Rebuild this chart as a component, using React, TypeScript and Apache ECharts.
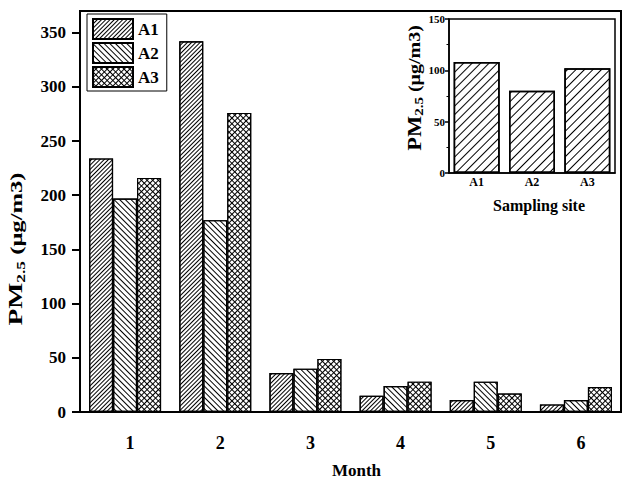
import React, { useEffect, useRef } from "react";
import * as echarts from "echarts";

const months = ["1", "2", "3", "4", "5", "6"];
const a1 = [234, 342, 36, 15, 11, 7];
const a2 = [197, 177, 40, 24, 28, 11];
const a3 = [216, 276, 49, 28, 17, 23];
const yTicks = [0, 50, 100, 150, 200, 250, 300, 350];

const sites = ["A1", "A2", "A3"];
const siteMeans = [108, 80, 102];

const FONT = "'Liberation Serif', 'Times New Roman', serif";

export default function App() {
  const ref = useRef<HTMLDivElement>(null);
  useEffect(() => {
    if (!ref.current) return;
    const chart = echarts.init(ref.current, undefined, { renderer: "svg" });
    const hatchA1 = { symbol: "rect", symbolSize: 1, color: "#000", dashArrayX: [1, 0], dashArrayY: [1, 2], rotation: -Math.PI / 4 };
    const hatchA2 = { symbol: "rect", symbolSize: 1, color: "#000", dashArrayX: [1, 0], dashArrayY: [1, 3], rotation: Math.PI / 4 };
    const hatchA3 = { symbol: "rect", symbolSize: 1, color: "#fff", dashArrayX: [3, 1], dashArrayY: [3, 1], rotation: Math.PI / 4 };
    const hatchInset = { symbol: "rect", symbolSize: 1, color: "#000", dashArrayX: [1, 0], dashArrayY: [1, 5], rotation: -Math.PI / 4 };
    const barStyle = (decal: any, fill = "#fff") => ({ color: fill, borderColor: "#000", borderWidth: 1.2, decal });
    const axisText = { color: "#000", fontFamily: FONT, fontWeight: "bold" as const };
    chart.setOption({
      animation: false,
      backgroundColor: "#fff",
      textStyle: { fontFamily: FONT, color: "#000" },
      legend: {
        data: ["A1", "A2", "A3"],
        orient: "vertical",
        left: 87,
        top: 14,
        icon: "rect",
        itemWidth: 40,
        itemHeight: 20,
        itemGap: 2,
        padding: [4, 8, 3, 5],
        borderColor: "#000",
        borderWidth: 1,
        textStyle: { ...axisText, fontSize: 17 },
      },
      grid: [
        { left: 80, right: 4, top: 11, bottom: 68, show: true, borderColor: "#000", borderWidth: 2 },
        { left: 449, right: 10, top: 19, bottom: 311, show: true, borderColor: "#000", borderWidth: 1.5, backgroundColor: "#fff" },
      ],
      xAxis: [
        {
          type: "category",
          gridIndex: 0,
          data: months,
          name: "Month",
          nameLocation: "middle",
          nameGap: 50,
          nameTextStyle: { ...axisText, fontSize: 17, padding: [0, 0, 0, 12] },
          axisLine: { lineStyle: { color: "#000", width: 2 } },
          axisTick: { alignWithLabel: true, length: 8, lineStyle: { color: "#000", width: 2 } },
          axisLabel: { ...axisText, fontSize: 18, margin: 22, padding: [0, 0, 0, 10] },
        },
        {
          type: "category",
          gridIndex: 1,
          data: sites,
          name: "Sampling site",
          nameLocation: "middle",
          nameGap: 24,
          nameTextStyle: { ...axisText, fontSize: 16, padding: [0, 0, 0, 14] },
          axisLine: { lineStyle: { color: "#000", width: 1.5 } },
          axisTick: { alignWithLabel: true, length: 3, lineStyle: { color: "#000", width: 1.5 } },
          axisLabel: { ...axisText, fontSize: 12, margin: 3 },
        },
      ],
      yAxis: [
        {
          type: "value",
          gridIndex: 0,
          min: 0,
          max: 370,
          interval: 50,
          splitLine: { show: false },
          axisLine: { show: true, lineStyle: { color: "#000", width: 2 } },
          axisTick: { show: true, length: 8, customValues: yTicks, lineStyle: { color: "#000", width: 2 } },
          axisLabel: { ...axisText, fontSize: 17, margin: 14, customValues: yTicks },
        },
        {
          type: "value",
          gridIndex: 1,
          min: 0,
          max: 150,
          interval: 50,
          splitLine: { show: false },
          axisLine: { show: true, lineStyle: { color: "#000", width: 1.5 } },
          axisTick: { show: true, length: 4, lineStyle: { color: "#000", width: 1.5 } },
          minorTick: { show: true, splitNumber: 2, length: 2.5, lineStyle: { color: "#000", width: 1 } },
          axisLabel: { ...axisText, fontSize: 11, margin: 4 },
        },
      ],
      graphic: [
        {
          type: "text",
          x: 16,
          y: 249,
          rotation: Math.PI / 2,
          scaleX: 1.45,
          style: {
            text: "{a|PM}{b|2.5}{c| (μg/m3)}",
            align: "center",
            verticalAlign: "middle",
            fill: "#000",
            rich: {
              a: { fontFamily: FONT, fontWeight: "bold", fontSize: 19, fill: "#000" },
              b: { fontFamily: FONT, fontWeight: "bold", fontSize: 12, fill: "#000", padding: [10, 0, 0, 0] },
              c: { fontFamily: FONT, fontWeight: "bold", fontSize: 17, fill: "#000" },
            },
          },
        },
        {
          type: "text",
          x: 415,
          y: 88,
          rotation: Math.PI / 2,
          scaleX: 1.25,
          style: {
            text: "{a|PM}{b|2.5}{c| (μg/m3)}",
            align: "center",
            verticalAlign: "middle",
            fill: "#000",
            rich: {
              a: { fontFamily: FONT, fontWeight: "bold", fontSize: 18, fill: "#000" },
              b: { fontFamily: FONT, fontWeight: "bold", fontSize: 12, fill: "#000", padding: [9, 0, 0, 0] },
              c: { fontFamily: FONT, fontWeight: "bold", fontSize: 16, fill: "#000" },
            },
          },
        },
      ],
      series: [
        { name: "A1", type: "bar", xAxisIndex: 0, yAxisIndex: 0, data: a1, barWidth: 24, barGap: "0%", itemStyle: barStyle(hatchA1) },
        { name: "A2", type: "bar", xAxisIndex: 0, yAxisIndex: 0, data: a2, barWidth: 24, barGap: "0%", itemStyle: barStyle(hatchA2) },
        { name: "A3", type: "bar", xAxisIndex: 0, yAxisIndex: 0, data: a3, barWidth: 24, barGap: "0%", itemStyle: barStyle(hatchA3, "#000") },
        { name: "Site mean", type: "bar", xAxisIndex: 1, yAxisIndex: 1, data: siteMeans, barWidth: 46, itemStyle: { color: "#fff", borderColor: "#000", borderWidth: 1.5, decal: hatchInset } },
      ],
    });
    return () => chart.dispose();
  }, []);
  return <div ref={ref} style={{ width: 625, height: 484, position: "absolute", left: 0, top: 0 }} />;
}
